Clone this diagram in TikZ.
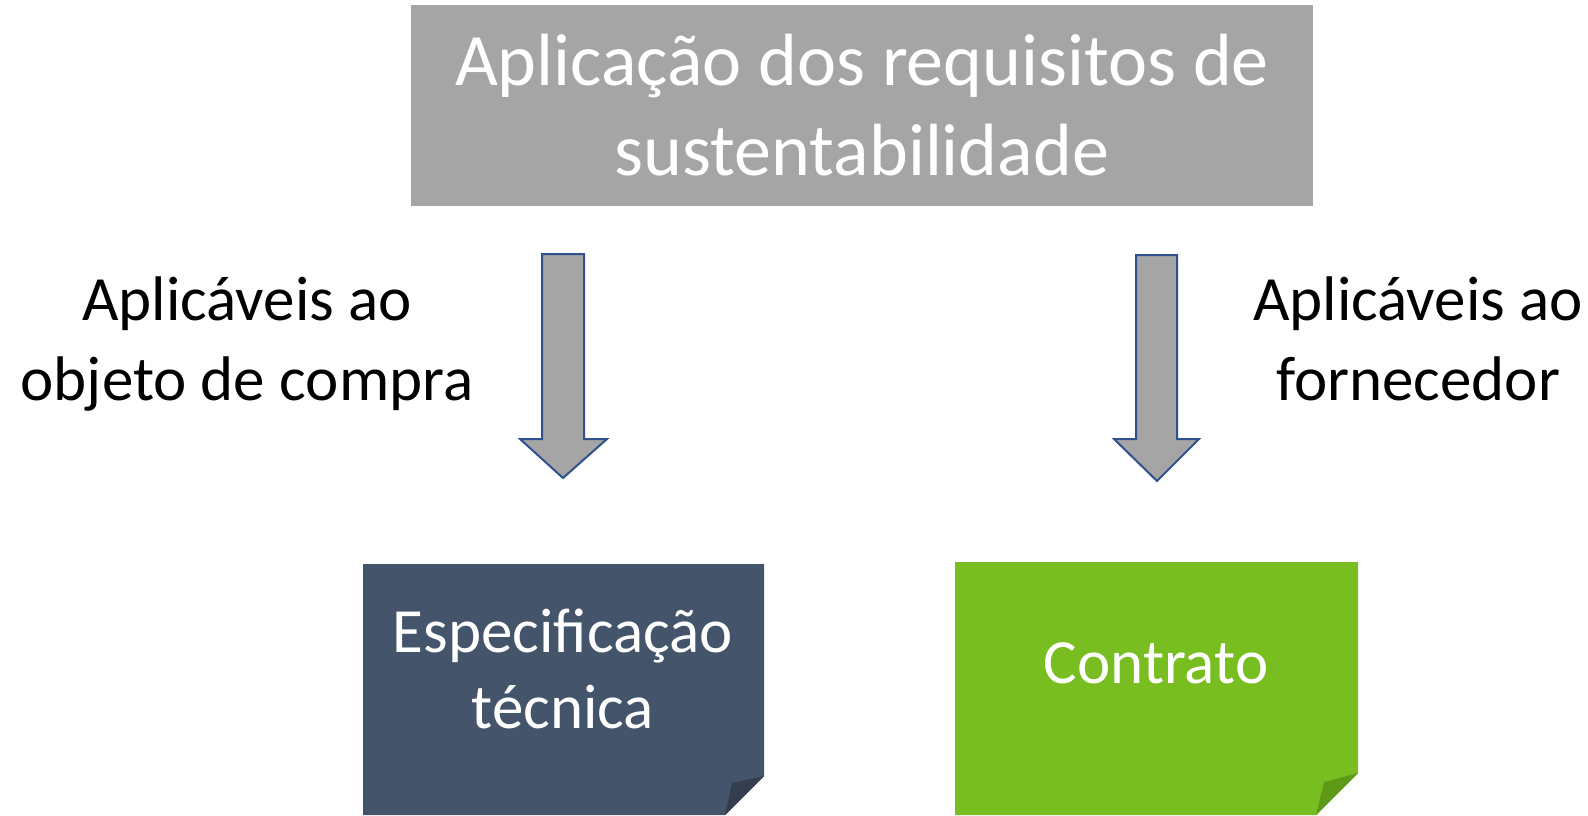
\documentclass[tikz,border=0pt]{standalone}
\usepackage{fontspec}
\setmainfont{Carlito}
\definecolor{boxgray}{HTML}{A5A5A5}
\definecolor{arrowblue}{HTML}{2F528F}
\definecolor{slate}{HTML}{44546A}
\definecolor{slatedark}{HTML}{333F50}
\definecolor{lime}{HTML}{78BE20}
\definecolor{limedark}{HTML}{5E9A18}
\begin{document}
\begin{tikzpicture}[x=1pt,y=-1pt,
  toptext/.style={text=white,anchor=base,inner sep=0pt,font=\fontsize{74}{90}\selectfont},
  sidetext/.style={text=black,anchor=base,inner sep=0pt,font=\fontsize{63}{80}\selectfont},
  boxtext/.style={text=white,anchor=base,inner sep=0pt,font=\fontsize{63}{76}\selectfont},
  blockarrow/.style={fill=boxgray,draw=arrowblue,line width=2pt,line join=miter}]
\useasboundingbox (0,0) rectangle (1588,815);
% top box
\fill[boxgray] (411,5) rectangle (1313,206);
\node[toptext] (top1) at (862,85) {Aplicação dos requisitos de};
\node[toptext] (top2) at (862,175) {sustentabilidade};
% arrows
\draw[blockarrow] (542,254) -- (584,254) -- (584,439) -- (607,439) -- (563,478) -- (520,439) -- (542,439) -- cycle;
\draw[blockarrow] (1136,255) -- (1177,255) -- (1177,439) -- (1199,439) -- (1157,481) -- (1114,439) -- (1136,439) -- cycle;
% side labels
\node[sidetext] (left1) at (247,320) {Aplicáveis ao};
\node[sidetext] (left2) at (247,400) {objeto de compra};
\node[sidetext] (right1) at (1418,320) {Aplicáveis ao};
\node[sidetext] (right2) at (1418,400) {fornecedor};
% bottom left box
\fill[slate] (363,564) -- (764,564) -- (764,776) -- (725,815) -- (363,815) -- cycle;
\fill[slatedark] (764,776) -- (732,783) -- (725,815) -- cycle;
\node[boxtext] (spec1) at (563,652) {Especificação};
\node[boxtext] (spec2) at (563,728) {técnica};
% bottom right box
\fill[lime] (955,562) -- (1358,562) -- (1358,773) -- (1316,815) -- (955,815) -- cycle;
\fill[limedark] (1358,773) -- (1324,782) -- (1316,815) -- cycle;
\node[boxtext] (contr) at (1156,683) {Contrato};
\end{tikzpicture}
\end{document}
